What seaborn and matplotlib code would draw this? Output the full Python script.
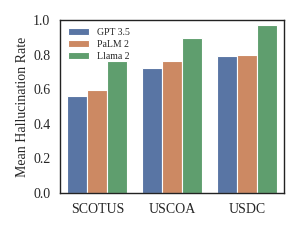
import matplotlib
matplotlib.use('Agg')
import matplotlib.pyplot as plt
import seaborn as sns
import pandas as pd

courts = ['SCOTUS', 'USCOA', 'USDC']
models = ['GPT 3.5', 'PaLM 2', 'Llama 2']
gpt35 = [0.562, 0.721, 0.790]
palm2 = [0.595, 0.761, 0.800]
llama2 = [0.761, 0.898, 0.969]

df = pd.DataFrame({
    'court': courts * 3,
    'model': [m for m in models for _ in courts],
    'rate': gpt35 + palm2 + llama2,
})

sns.set_theme(style='white', palette='deep')
plt.rcParams['font.family'] = ['Liberation Serif', 'DejaVu Serif']

fig = plt.figure(figsize=(3, 2.5), dpi=100)
ax = fig.add_axes([0.2, 0.228, 0.747, 0.692])
sns.barplot(data=df, x='court', y='rate', hue='model', ax=ax,
            edgecolor='white', linewidth=0.8)
ax.set_ylim(0, 1.0)
ax.set_xlabel('')
ax.set_ylabel('Mean Hallucination Rate', fontsize=10, labelpad=3)
ax.tick_params(axis='both', labelsize=10, length=0, pad=7)
for s in ax.spines.values():
    s.set_color('#222222')
    s.set_linewidth(1.0)
ax.legend(loc='upper left', frameon=False, fontsize=7, handlelength=2.2,
          borderaxespad=0.4, labelspacing=0.3)
plt.savefig('out.png', dpi=100)
